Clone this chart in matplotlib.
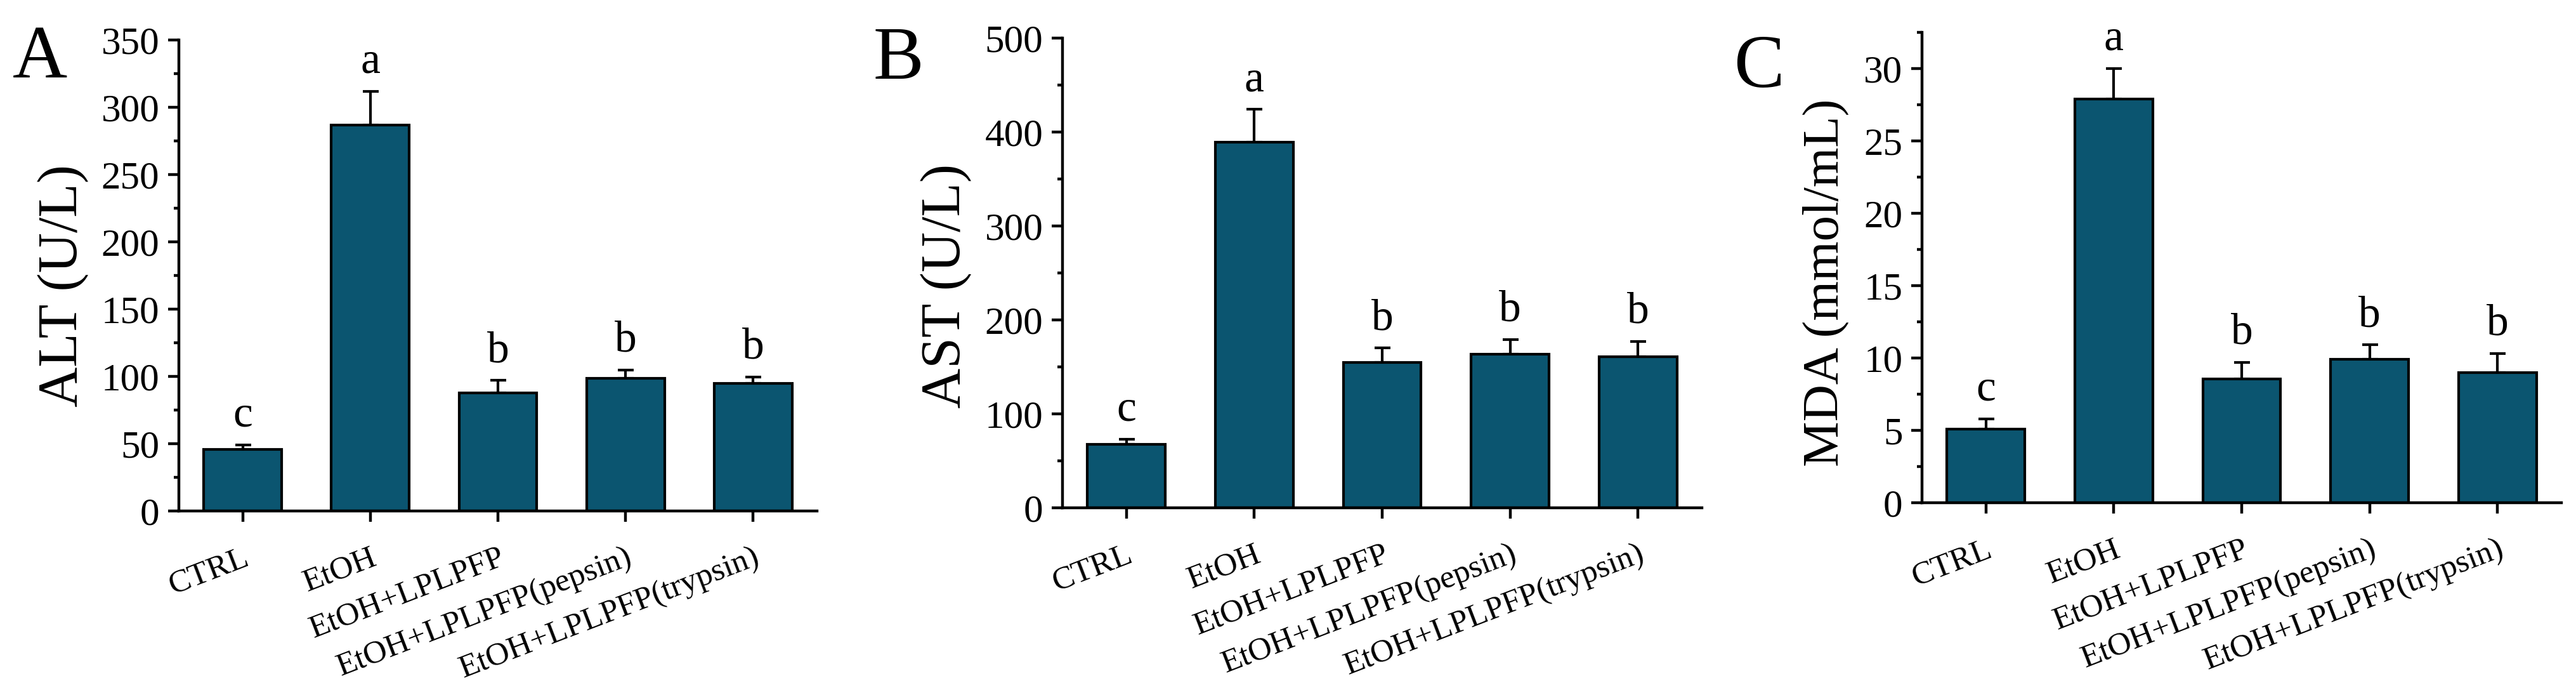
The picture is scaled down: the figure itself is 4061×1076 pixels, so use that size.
import matplotlib
matplotlib.use("Agg")
import matplotlib.pyplot as plt
from matplotlib.ticker import MultipleLocator
import numpy as np

plt.rcParams['font.family'] = ['Liberation Serif', 'DejaVu Serif']

categories = ["CTRL", "EtOH", "EtOH+LPLPFP", "EtOH+LPLPFP(pepsin)", "EtOH+LPLPFP(trypsin)"]

alt_mean = [45.7, 287, 87.7, 98.6, 94.8]
alt_err = [3.3, 25, 9.3, 6.1, 4.7]
alt_letters = ["c", "a", "b", "b", "b"]

ast_mean = [67.6, 389, 155, 163.5, 161]
ast_err = [5.4, 35, 15, 15.5, 16]
ast_letters = ["c", "a", "b", "b", "b"]

mda_mean = [5.1, 27.9, 8.55, 9.9, 9.0]
mda_err = [0.7, 2.1, 1.15, 1.0, 1.3]
mda_letters = ["c", "a", "b", "b", "b"]

bar_color = "#0b5570"

W, H = 4061, 1076
fig = plt.figure(figsize=(W / 100, H / 100), dpi=100)

def px_axes(left, right, top, bottom):
    return [left / W, 1 - bottom / H, (right - left) / W, (bottom - top) / H]

panels = [
    dict(rect=px_axes(282, 1288, 63, 805), mean=alt_mean, err=alt_err, letters=alt_letters,
         ylim=(0, 350), major=50, minor=25, ylabel="ALT (U/L)", ylfs=63,
         ylx=100, yly=450, tag="A", tagx=20, tagy=122),
    dict(rect=px_axes(1675, 2683, 60, 800), mean=ast_mean, err=ast_err, letters=ast_letters,
         ylim=(0, 500), major=100, minor=50, ylabel="AST (U/L)", ylfs=63,
         ylx=1492, yly=450, tag="B", tagx=1377, tagy=124),
    dict(rect=px_axes(3030, 4038, 51, 792), mean=mda_mean, err=mda_err, letters=mda_letters,
         ylim=(0, 32.5), major=5, minor=2.5, ylabel="MDA (mmol/mL)", ylfs=58,
         ylx=2878, yly=445, tag="C", tagx=2733, tagy=137),
]

x = np.arange(len(categories))
for p in panels:
    ax = fig.add_axes(p["rect"])
    mean = np.array(p["mean"])
    err = np.array(p["err"])
    ax.bar(x, mean, width=0.61, color=bar_color, edgecolor="black", linewidth=3, zorder=2,
           yerr=[np.zeros_like(err), err], capsize=9,
           error_kw=dict(ecolor="black", elinewidth=3, capthick=3, zorder=1))
    for xi, m, e, lt in zip(x, mean, err, p["letters"]):
        ax.annotate(lt, (xi, m + e), xytext=(0, 21), textcoords="offset points",
                    ha="center", va="baseline", fontsize=50)
    ax.set_xlim(-0.5, 4.5)
    ax.set_ylim(*p["ylim"])
    ax.yaxis.set_major_locator(MultipleLocator(p["major"]))
    ax.yaxis.set_minor_locator(MultipleLocator(p["minor"]))
    for s in ["top", "right"]:
        ax.spines[s].set_visible(False)
    for s in ["left", "bottom"]:
        ax.spines[s].set_linewidth(3.2)
    ax.tick_params(axis="y", which="major", direction="out", length=12, width=3.2,
                   labelsize=44, pad=10)
    ax.tick_params(axis="y", which="minor", direction="out", length=6, width=3.2)
    ax.tick_params(axis="x", which="major", direction="out", length=12, width=3.2,
                   labelsize=37, pad=24)
    ax.set_xticks(x)
    ax.set_xticklabels(categories, rotation=21, ha="right", va="top", rotation_mode="anchor")
    fig.text(p["ylx"] / W, 1 - p["yly"] / H, p["ylabel"], rotation=90, ha="center",
             va="center", fontsize=p["ylfs"])
    fig.text(p["tagx"] / W, 1 - p["tagy"] / H, p["tag"], ha="left", va="baseline", fontsize=86)

fig.savefig("out.png", dpi=100, facecolor="white")
